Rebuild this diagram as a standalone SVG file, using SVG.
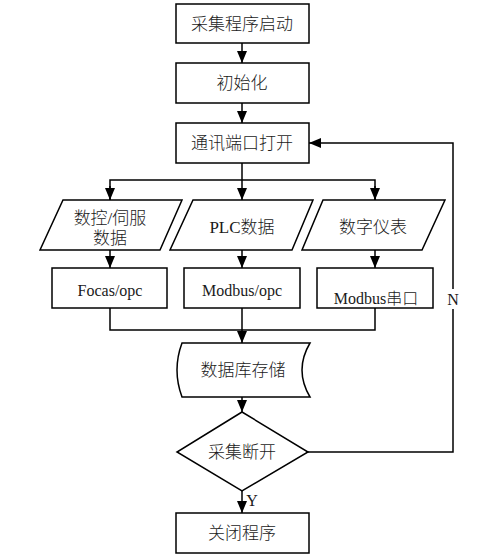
<svg xmlns="http://www.w3.org/2000/svg" width="478" height="559" viewBox="0 0 478 559">
<style>
.n{fill:#fff;stroke:#000;stroke-width:1.5}
.c{fill:none;stroke:#000;stroke-width:1.5}
.t{font-family:"Liberation Serif","Noto Sans CJK SC",serif;font-size:17px;font-weight:300;fill:#1a1a1a;text-anchor:middle;dominant-baseline:central}
.s{font-size:16px}
</style>
<defs>
<marker id="a" viewBox="0 0 12 10" refX="12" refY="5" markerWidth="12" markerHeight="10" markerUnits="userSpaceOnUse" orient="auto">
<path d="M0,0 L12,5 L0,10 Z" fill="#000"/>
</marker>
</defs>
<g id="connectors">
<line class="c" x1="242" y1="43" x2="242" y2="63" marker-end="url(#a)"/>
<line class="c" x1="242" y1="103" x2="242" y2="123" marker-end="url(#a)"/>
<line class="c" x1="242" y1="163" x2="242" y2="200" marker-end="url(#a)"/>
<polyline class="c" points="110,200 110,180 375,180 375,200"/>
<line class="c" x1="110" y1="186" x2="110" y2="200" marker-end="url(#a)"/>
<line class="c" x1="375" y1="186" x2="375" y2="200" marker-end="url(#a)"/>
<line class="c" x1="110" y1="250" x2="110" y2="268" marker-end="url(#a)"/>
<line class="c" x1="242" y1="250" x2="242" y2="268" marker-end="url(#a)"/>
<line class="c" x1="375" y1="250" x2="375" y2="268" marker-end="url(#a)"/>
<polyline class="c" points="110,308 110,330 375,330 375,308"/>
<line class="c" x1="242" y1="308" x2="242" y2="343" marker-end="url(#a)"/>
<line class="c" x1="242" y1="397" x2="242" y2="412" marker-end="url(#a)"/>
<line class="c" x1="242" y1="491" x2="242" y2="513" marker-end="url(#a)"/>
<polyline class="c" points="308,452 453,452 453,143 309,143" marker-end="url(#a)"/>
<rect x="446" y="289" width="14" height="20" fill="#fff"/>
<text class="t s" x="453" y="299">N</text>
<text class="t s" x="252" y="500">Y</text>
</g>
<g id="start"><rect class="n" x="176" y="4" width="133" height="39"/><text class="t" x="242" y="24">采集程序启动</text></g>
<g id="init"><rect class="n" x="176" y="63" width="133" height="40"/><text class="t" x="242" y="83">初始化</text></g>
<g id="open"><rect class="n" x="176" y="123" width="133" height="40"/><text class="t" x="242" y="143">通讯端口打开</text></g>
<g id="cnc"><polygon class="n" points="63,200 182,200 160,250 40,250"/><text class="t" x="110" y="218">数控/伺服</text><text class="t" x="110" y="238">数据</text></g>
<g id="plc"><polygon class="n" points="193,200 313,200 292,250 170,250"/><text class="t" x="242" y="227">PLC数据</text></g>
<g id="meter"><polygon class="n" points="323,200 445,200 422,250 302,250"/><text class="t" x="373" y="227">数字仪表</text></g>
<g id="focas"><rect class="n" x="52" y="268" width="115" height="40"/><text class="t s" x="110" y="290">Focas/opc</text></g>
<g id="modbusopc"><rect class="n" x="184" y="268" width="116" height="40"/><text class="t s" x="242" y="290">Modbus/opc</text></g>
<g id="modbusserial"><rect class="n" x="317" y="268" width="116" height="40"/><text class="t s" x="376" y="298">Modbus串口</text></g>
<g id="db"><path class="n" d="M182,343 L310,343 Q294,370 310,397 L182,397 Q172,370 182,343 Z"/><text class="t" x="243" y="370">数据库存储</text></g>
<g id="decision"><polygon class="n" points="242,412 308,452 242,491 177,452"/><text class="t" x="242" y="452">采集断开</text></g>
<g id="close"><rect class="n" x="176" y="513" width="133" height="40"/><text class="t" x="242" y="533">关闭程序</text></g>
</svg>
